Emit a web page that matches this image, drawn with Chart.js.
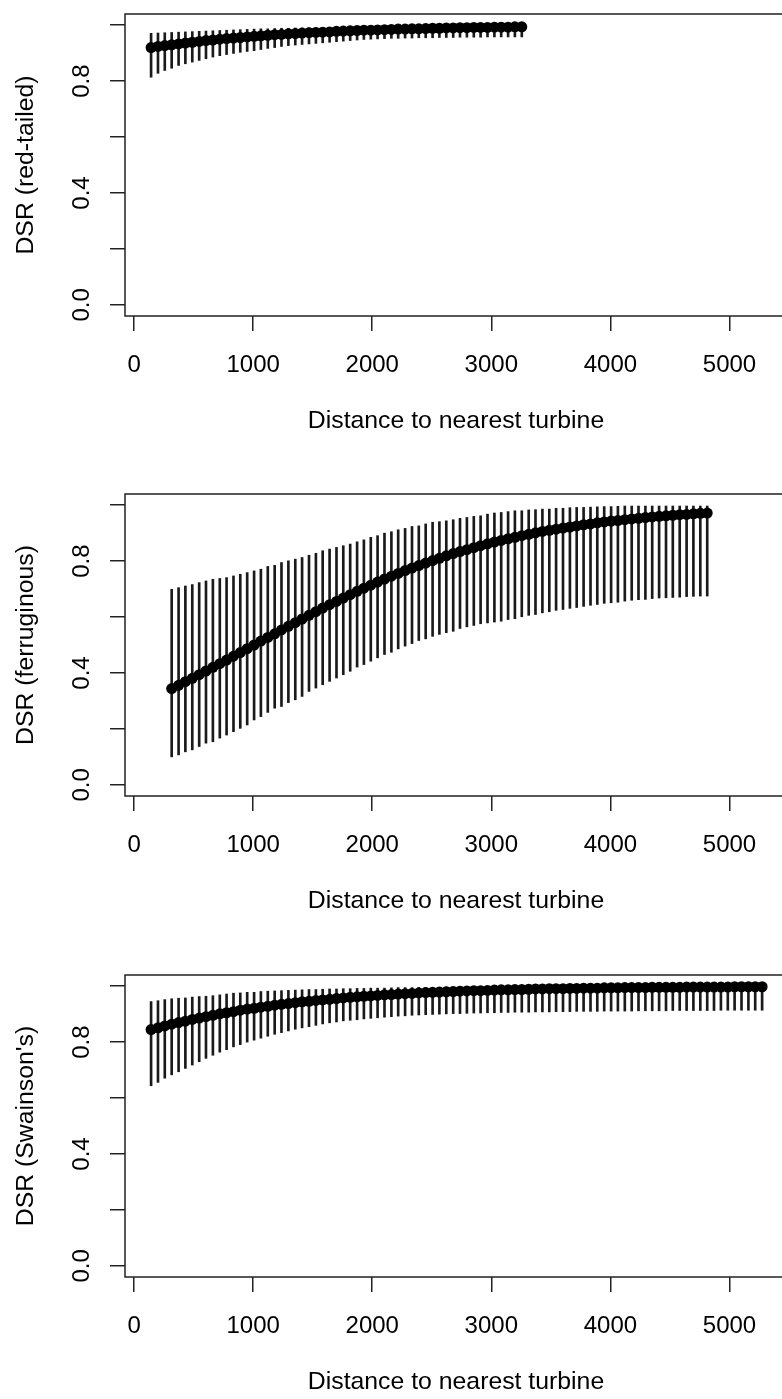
<!DOCTYPE html>
<html>
<head>
<meta charset="utf-8">
<title>DSR by distance to nearest turbine</title>
<script src="https://cdn.jsdelivr.net/npm/chart.js@4.4.1/dist/chart.umd.min.js"></script>
<style>
  html, body { margin: 0; padding: 0; background: #fff; overflow: hidden; }
  body { width: 782px; height: 1399px; position: relative; }
  .panel { position: absolute; left: 0; }
</style>
</head>
<body>
<canvas id="redTailed" class="panel" width="800" height="480" style="top:0px"></canvas>
<canvas id="ferruginous" class="panel" width="800" height="480" style="top:480px"></canvas>
<canvas id="swainsons" class="panel" width="800" height="480" style="top:961px"></canvas>
<script>
// distance grid shared by the three panels (m)
const distance = [
  143, 201, 258, 316, 374, 431, 489, 547, 604, 662,
  720, 777, 835, 892, 950, 1008, 1065, 1123, 1181, 1238,
  1296, 1354, 1411, 1469, 1527, 1584, 1642, 1700, 1757, 1815,
  1873, 1930, 1988, 2045, 2103, 2161, 2218, 2276, 2334, 2391,
  2449, 2507, 2564, 2622, 2680, 2737, 2795, 2853, 2910, 2968,
  3026, 3083, 3141, 3198, 3256, 3314, 3371, 3429, 3487, 3544,
  3602, 3660, 3717, 3775, 3833, 3890, 3948, 4006, 4063, 4121,
  4179, 4236, 4294, 4351, 4409, 4467, 4524, 4582, 4640, 4697,
  4755, 4813, 4870, 4928, 4986, 5043, 5101, 5159, 5216, 5274,
];

// red-tailed hawk (first 55 distances)
const rtMean = [
  0.920, 0.924, 0.927, 0.930, 0.933, 0.936, 0.939, 0.942, 0.945, 0.947,
  0.950, 0.952, 0.954, 0.956, 0.958, 0.960, 0.962, 0.964, 0.966, 0.967,
  0.969, 0.970, 0.972, 0.973, 0.974, 0.975, 0.976, 0.978, 0.979, 0.980,
  0.981, 0.982, 0.982, 0.983, 0.984, 0.985, 0.986, 0.986, 0.987, 0.987,
  0.988, 0.989, 0.989, 0.990, 0.990, 0.991, 0.991, 0.992, 0.992, 0.992,
  0.993, 0.993, 0.993, 0.994, 0.994,
];
const rtLower = [
  0.814, 0.828, 0.838, 0.846, 0.856, 0.862, 0.868, 0.874, 0.880, 0.886,
  0.891, 0.895, 0.899, 0.903, 0.906, 0.909, 0.913, 0.917, 0.920, 0.924,
  0.927, 0.929, 0.931, 0.933, 0.935, 0.937, 0.939, 0.941, 0.943, 0.945,
  0.947, 0.949, 0.950, 0.951, 0.952, 0.953, 0.953, 0.954, 0.954, 0.955,
  0.955, 0.955, 0.956, 0.956, 0.956, 0.957, 0.957, 0.957, 0.957, 0.958,
  0.958, 0.958, 0.958, 0.958, 0.958,
];
const rtUpper = [
  0.971, 0.972, 0.973, 0.974, 0.975, 0.976, 0.977, 0.978, 0.979, 0.980,
  0.981, 0.982, 0.983, 0.984, 0.985, 0.986, 0.987, 0.987, 0.988, 0.989,
  0.989, 0.990, 0.990, 0.991, 0.991, 0.992, 0.992, 0.993, 0.993, 0.993,
  0.994, 0.994, 0.994, 0.995, 0.995, 0.995, 0.996, 0.996, 0.996, 0.996,
  0.997, 0.997, 0.997, 0.997, 0.998, 0.998, 0.998, 0.998, 0.998, 0.998,
  0.998, 0.998, 0.998, 0.998, 0.998,
];

// ferruginous hawk (distances 4th to 82nd)
const fhStart = 3;
const fhMean = [
  0.344, 0.356, 0.369, 0.381, 0.394, 0.407, 0.420, 0.433, 0.446, 0.460,
  0.473, 0.487, 0.500, 0.514, 0.527, 0.540, 0.554, 0.567, 0.580, 0.593,
  0.606, 0.619, 0.632, 0.644, 0.656, 0.668, 0.680, 0.692, 0.703, 0.714,
  0.725, 0.736, 0.746, 0.756, 0.766, 0.775, 0.784, 0.793, 0.802, 0.810,
  0.819, 0.827, 0.834, 0.841, 0.848, 0.855, 0.862, 0.868, 0.874, 0.880,
  0.885, 0.891, 0.896, 0.901, 0.906, 0.910, 0.914, 0.918, 0.922, 0.926,
  0.930, 0.933, 0.937, 0.940, 0.943, 0.945, 0.948, 0.951, 0.953, 0.956,
  0.958, 0.960, 0.962, 0.964, 0.966, 0.967, 0.969, 0.971, 0.972,
];
const fhLower = [
  0.100, 0.107, 0.118, 0.125, 0.137, 0.149, 0.154, 0.167, 0.178, 0.190,
  0.202, 0.214, 0.232, 0.244, 0.259, 0.274, 0.280, 0.294, 0.304, 0.316,
  0.334, 0.346, 0.358, 0.370, 0.382, 0.394, 0.406, 0.421, 0.430, 0.442,
  0.454, 0.466, 0.474, 0.486, 0.496, 0.505, 0.516, 0.522, 0.531, 0.538,
  0.544, 0.549, 0.559, 0.565, 0.570, 0.576, 0.579, 0.582, 0.585, 0.591,
  0.594, 0.601, 0.606, 0.609, 0.615, 0.619, 0.624, 0.627, 0.631, 0.634,
  0.638, 0.642, 0.645, 0.649, 0.651, 0.653, 0.657, 0.660, 0.662, 0.663,
  0.666, 0.668, 0.669, 0.670, 0.671, 0.673, 0.674, 0.675, 0.675,
];
const fhUpper = [
  0.699, 0.705, 0.711, 0.716, 0.723, 0.729, 0.735, 0.738, 0.741, 0.747,
  0.753, 0.759, 0.765, 0.771, 0.781, 0.785, 0.795, 0.801, 0.807, 0.813,
  0.821, 0.828, 0.837, 0.843, 0.849, 0.855, 0.861, 0.869, 0.876, 0.885,
  0.891, 0.900, 0.905, 0.912, 0.917, 0.924, 0.926, 0.933, 0.939, 0.941,
  0.944, 0.948, 0.953, 0.956, 0.960, 0.962, 0.968, 0.972, 0.974, 0.977,
  0.980, 0.980, 0.983, 0.984, 0.986, 0.986, 0.989, 0.989, 0.991, 0.992,
  0.992, 0.993, 0.994, 0.995, 0.995, 0.996, 0.997, 0.997, 0.997, 0.997,
  0.997, 0.997, 0.997, 0.997, 0.997, 0.997, 0.997, 0.997, 0.997,
];

// Swainson's hawk (all 90 distances)
const shMean = [
  0.845, 0.851, 0.858, 0.864, 0.870, 0.875, 0.881, 0.886, 0.891, 0.896,
  0.901, 0.905, 0.909, 0.914, 0.918, 0.921, 0.925, 0.928, 0.932, 0.935,
  0.938, 0.941, 0.944, 0.946, 0.949, 0.951, 0.953, 0.956, 0.958, 0.960,
  0.962, 0.964, 0.965, 0.967, 0.969, 0.970, 0.972, 0.973, 0.974, 0.976,
  0.977, 0.978, 0.979, 0.980, 0.981, 0.982, 0.983, 0.984, 0.984, 0.985,
  0.986, 0.987, 0.987, 0.988, 0.988, 0.989, 0.990, 0.990, 0.991, 0.991,
  0.991, 0.992, 0.992, 0.993, 0.993, 0.993, 0.994, 0.994, 0.994, 0.995,
  0.995, 0.995, 0.995, 0.996, 0.996, 0.996, 0.996, 0.996, 0.997, 0.997,
  0.997, 0.997, 0.997, 0.997, 0.997, 0.998, 0.998, 0.998, 0.998, 0.998,
];
const shLower = [
  0.644, 0.656, 0.671, 0.683, 0.694, 0.706, 0.718, 0.730, 0.742, 0.753,
  0.764, 0.773, 0.783, 0.791, 0.800, 0.807, 0.814, 0.821, 0.828, 0.834,
  0.840, 0.846, 0.851, 0.855, 0.860, 0.865, 0.869, 0.872, 0.876, 0.878,
  0.880, 0.883, 0.885, 0.887, 0.889, 0.891, 0.893, 0.894, 0.896, 0.897,
  0.898, 0.899, 0.900, 0.901, 0.902, 0.902, 0.903, 0.904, 0.904, 0.905,
  0.905, 0.906, 0.906, 0.907, 0.907, 0.907, 0.908, 0.908, 0.908, 0.909,
  0.909, 0.909, 0.910, 0.910, 0.910, 0.910, 0.911, 0.911, 0.911, 0.911,
  0.911, 0.912, 0.912, 0.912, 0.912, 0.912, 0.913, 0.913, 0.913, 0.913,
  0.913, 0.913, 0.913, 0.914, 0.914, 0.914, 0.914, 0.914, 0.914, 0.914,
];
const shUpper = [
  0.945, 0.948, 0.952, 0.955, 0.957, 0.958, 0.961, 0.963, 0.964, 0.966,
  0.969, 0.972, 0.975, 0.976, 0.978, 0.978, 0.981, 0.982, 0.983, 0.984,
  0.985, 0.986, 0.987, 0.988, 0.988, 0.989, 0.990, 0.990, 0.991, 0.991,
  0.992, 0.992, 0.993, 0.993, 0.993, 0.994, 0.995, 0.995, 0.995, 0.996,
  0.996, 0.996, 0.996, 0.997, 0.997, 0.997, 0.997, 0.997, 0.998, 0.998,
  0.998, 0.998, 0.998, 0.998, 0.998, 0.998, 0.998, 0.999, 0.999, 0.999,
  0.999, 0.999, 0.999, 0.999, 0.999, 0.999, 0.999, 0.999, 0.999, 0.999,
  0.999, 0.999, 0.999, 0.999, 0.999, 0.999, 0.999, 0.999, 0.999, 0.999,
  0.999, 0.999, 0.999, 0.999, 0.999, 0.999, 0.999, 0.999, 0.999, 0.999,
];

// axes
const xTicks = [0, 1000, 2000, 3000, 4000, 5000];
const xTickLabels = ['0', '1000', '2000', '3000', '4000', '5000'];
const yTicks = [0, 0.2, 0.4, 0.6, 0.8, 1.0];
const yTickLabels = ['0.0', '', '0.4', '', '0.8', ''];
const xTitle = 'Distance to nearest turbine';

Chart.defaults.font.family = "'Liberation Sans', Arial, sans-serif";
Chart.defaults.color = '#000';

const ink = '#1a1a1a';

// R style closed box round the plot region
const plotBox = {
  id: 'plotBox',
  afterDatasetsDraw(chart) {
    const { ctx, chartArea } = chart;
    ctx.save();
    ctx.strokeStyle = '#222';
    ctx.lineWidth = 1.5;
    ctx.strokeRect(chartArea.left, chartArea.top, chartArea.right - chartArea.left, chartArea.bottom - chartArea.top);
    ctx.restore();
  },
};

const drawPanel = (id, yTitle, dist, mean, lower, upper) => {
  const points = mean.map((v, i) => ({ x: dist[i], y: v }));
  const bars = lower.map((v, i) => ({ x: dist[i], y: [v, upper[i]] }));

  // eslint-disable-next-line no-new
  new Chart(document.getElementById(id), {
    type: 'scatter',
    data: {
      datasets: [
        {
          label: 'DSR',
          data: points,
          order: 0,
          pointRadius: 5.5,
          pointBorderWidth: 0,
          pointBackgroundColor: '#000',
          showLine: false,
        },
        {
          type: 'bar',
          label: '95% CI',
          data: bars,
          order: 1,
          barThickness: 2,
          backgroundColor: ink,
          borderWidth: 0,
        },
      ],
    },
    options: {
      responsive: false,
      devicePixelRatio: 1,
      animation: false,
      layout: { padding: { top: 14, right: 13, bottom: 34, left: 0 } },
      plugins: { legend: { display: false }, tooltip: { enabled: false } },
      scales: {
        x: {
          type: 'linear',
          offset: false,
          min: -76,
          max: 5483,
          afterBuildTicks: (axis) => { axis.ticks = xTicks.map((v) => ({ value: v })); },
          afterFit: (axis) => {
            axis.height = 130;
            axis.paddingLeft = 0;
            axis.paddingRight = 0;
          },
          grid: { offset: false, drawOnChartArea: false, color: '#222', lineWidth: 1.5, tickLength: 15 },
          border: { display: false },
          ticks: {
            autoSkip: false,
            maxRotation: 0,
            padding: 20,
            font: { size: 24 },
            callback: (value) => xTickLabels[xTicks.indexOf(value)],
          },
          title: { display: true, text: xTitle, font: { size: 24.8 }, padding: { top: 0, bottom: 10 } },
        },
        y: {
          type: 'linear',
          min: -0.04,
          max: 1.04,
          afterBuildTicks: (axis) => { axis.ticks = yTicks.map((v) => ({ value: v })); },
          afterFit: (axis) => {
            axis.width = 125;
            axis.paddingTop = 0;
            axis.paddingBottom = 0;
          },
          grid: { drawOnChartArea: false, color: '#222', lineWidth: 1.5, tickLength: 15 },
          border: { display: false },
          ticks: {
            minRotation: 90,
            maxRotation: 90,
            crossAlign: 'center',
            padding: 11,
            font: { size: 24 },
            callback: (value) => yTickLabels[yTicks.indexOf(value)],
          },
          title: { display: true, text: yTitle, font: { size: 24.8 }, padding: { top: 11, bottom: 0 } },
        },
      },
    },
    plugins: [plotBox],
  });
};

drawPanel('redTailed', 'DSR (red-tailed)', distance.slice(0, rtMean.length), rtMean, rtLower, rtUpper);
drawPanel('ferruginous', 'DSR (ferruginous)', distance.slice(fhStart, fhStart + fhMean.length), fhMean, fhLower, fhUpper);
drawPanel('swainsons', "DSR (Swainson's)", distance.slice(0, shMean.length), shMean, shLower, shUpper);
</script>
</body>
</html>
